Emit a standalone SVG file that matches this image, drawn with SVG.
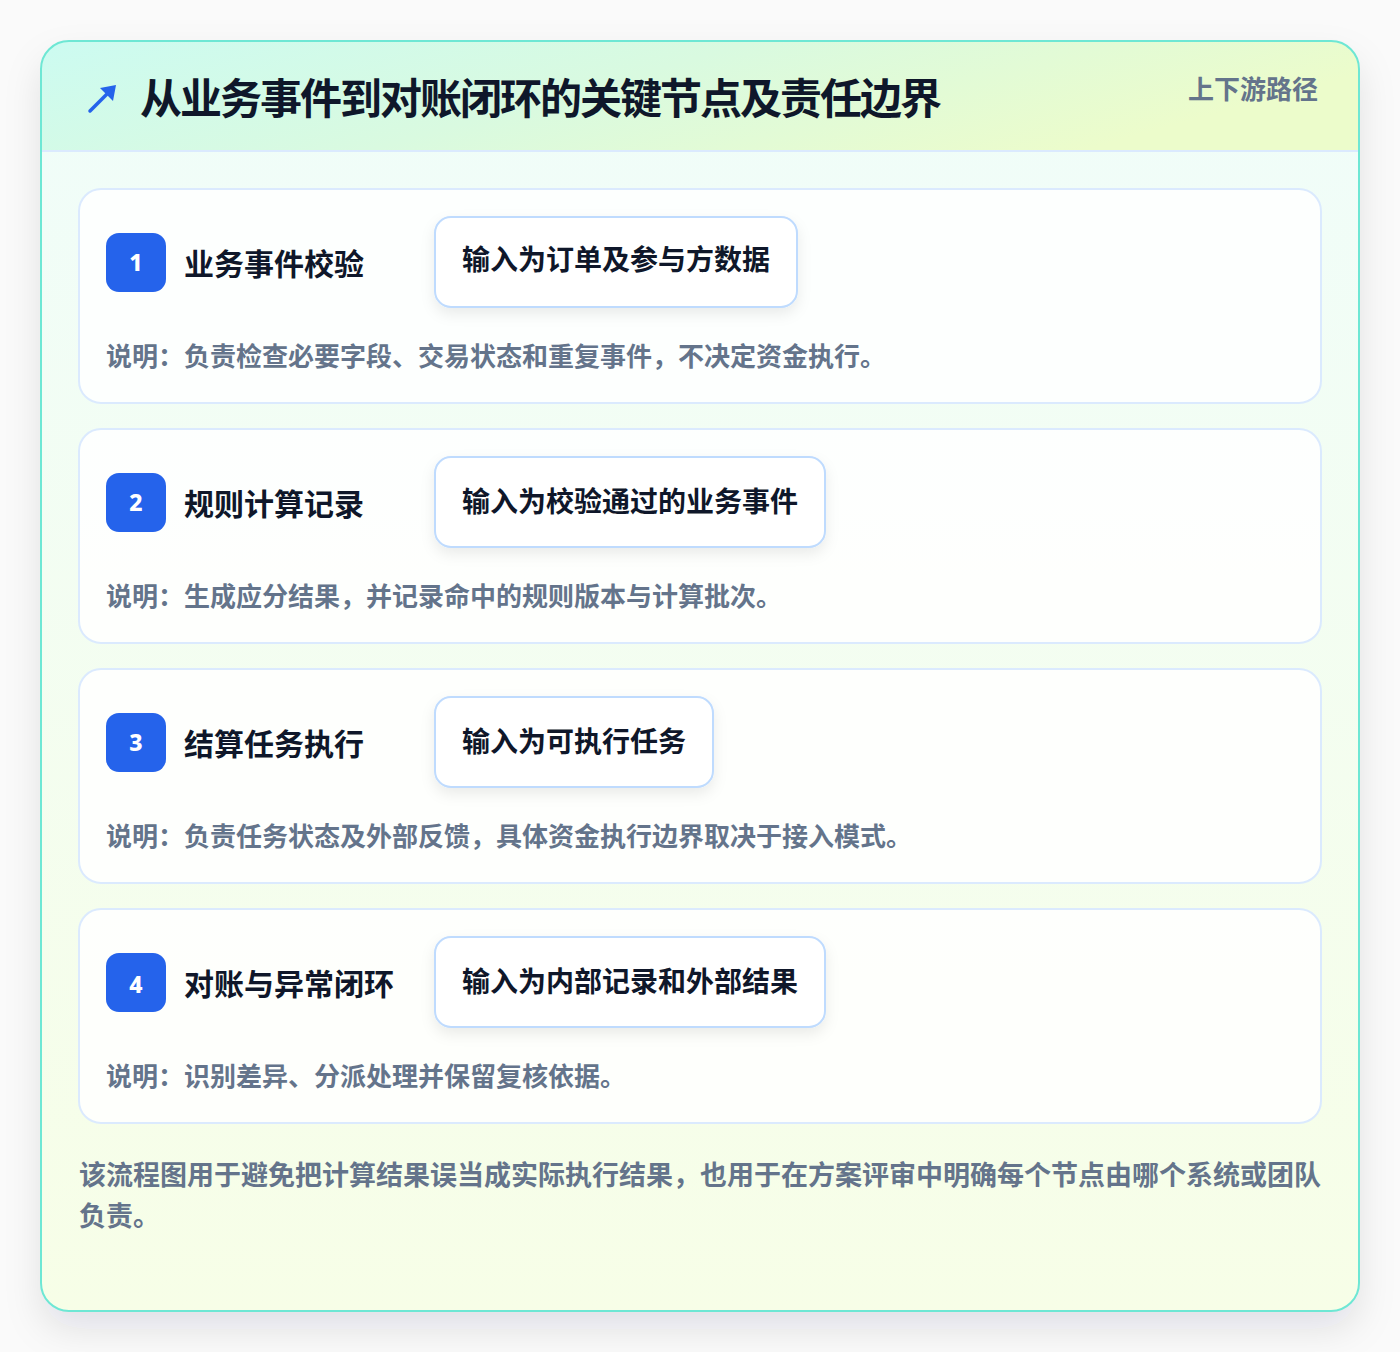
<svg xmlns="http://www.w3.org/2000/svg" width="1400" height="1352" viewBox="0 0 1400 1352">
<style>
text{font-family:"Noto Sans CJK SC","Noto Sans",sans-serif;font-weight:700}
.card{fill:#ffffff;fill-opacity:0.85;stroke:#dbeafe;stroke-width:2}
.badge{fill:#2563eb}
.num{fill:#ffffff;font-size:23px;font-weight:800;text-anchor:middle;font-family:"Noto Sans","Liberation Sans",sans-serif}
.ttl{fill:#0f172a;font-size:30px}
.inbox{fill:#ffffff;stroke:#bfdbfe;stroke-width:2}
.intxt{fill:#0f172a;font-size:28px}
.desc{fill:#64748b;font-size:26px}
.foot{fill:#64748b;font-size:27px}
</style>
<defs>
<linearGradient id="hdr" x1="0" y1="0" x2="1" y2="0.3">
<stop offset="0" stop-color="#ccfbf1"/>
<stop offset="0.5" stop-color="#d9fae0"/>
<stop offset="1" stop-color="#ecfccb"/>
</linearGradient>
<linearGradient id="body" x1="0" y1="0" x2="0" y2="1">
<stop offset="0" stop-color="#f0fdfa"/>
<stop offset="1" stop-color="#f7fee7"/>
</linearGradient>
<filter id="sh" x="-10%" y="-10%" width="120%" height="125%">
<feDropShadow dx="0" dy="18" stdDeviation="18" flood-color="#0f172a" flood-opacity="0.10"/>
</filter>
<filter id="sh2" x="-10%" y="-20%" width="120%" height="160%">
<feDropShadow dx="0" dy="6" stdDeviation="7" flood-color="#0f172a" flood-opacity="0.08"/>
</filter>
<clipPath id="outerClip"><rect x="41" y="41" width="1318" height="1270" rx="28"/></clipPath>
</defs>
<rect width="1400" height="1352" fill="#fafafa"/>
<g id="frame">
<rect x="41" y="41" width="1318" height="1270" rx="28" fill="url(#body)" filter="url(#sh)"/>
<g clip-path="url(#outerClip)">
<rect x="41" y="41" width="1318" height="110" fill="url(#hdr)"/>
</g>
<line x1="41" y1="151" x2="1359" y2="151" stroke="#dbeafe" stroke-width="2"/>
<rect x="41" y="41" width="1318" height="1270" rx="28" fill="none" stroke="#6ee7d4" stroke-width="2"/>
</g>
<g id="header">
<g id="icon">
<line x1="90" y1="111" x2="108" y2="93" stroke="#2563eb" stroke-width="3.5" stroke-linecap="round"/>
<polygon points="116,85 113,101 100,88" fill="#2563eb"/>
</g>
<text x="140" y="114" font-size="42" fill="#0f172a" letter-spacing="-2">从业务事件到对账闭环的关键节点及责任边界</text>
<text x="1318" y="99" font-size="26" fill="#64748b" text-anchor="end">上下游路径</text>
</g>
<g id="step1">
<rect class="card" x="79" y="189" width="1242" height="214" rx="22"/>
<rect class="badge" x="106" y="233" width="60" height="59" rx="13"/>
<text class="num" x="136" y="271">1</text>
<text class="ttl" x="184" y="275">业务事件校验</text>
<rect class="inbox" x="435" y="217" width="362" height="90" rx="16" filter="url(#sh2)"/>
<text class="intxt" x="462" y="270">输入为订单及参与方数据</text>
<text class="desc" x="106" y="366">说明：负责检查必要字段、交易状态和重复事件，不决定资金执行。</text>
</g>
<g id="step2">
<rect class="card" x="79" y="429" width="1242" height="214" rx="22"/>
<rect class="badge" x="106" y="473" width="60" height="59" rx="13"/>
<text class="num" x="136" y="511">2</text>
<text class="ttl" x="184" y="515">规则计算记录</text>
<rect class="inbox" x="435" y="457" width="390" height="90" rx="16" filter="url(#sh2)"/>
<text class="intxt" x="462" y="512">输入为校验通过的业务事件</text>
<text class="desc" x="106" y="606">说明：生成应分结果，并记录命中的规则版本与计算批次。</text>
</g>
<g id="step3">
<rect class="card" x="79" y="669" width="1242" height="214" rx="22"/>
<rect class="badge" x="106" y="713" width="60" height="59" rx="13"/>
<text class="num" x="136" y="751">3</text>
<text class="ttl" x="184" y="755">结算任务执行</text>
<rect class="inbox" x="435" y="697" width="278" height="90" rx="16" filter="url(#sh2)"/>
<text class="intxt" x="462" y="752">输入为可执行任务</text>
<text class="desc" x="106" y="846">说明：负责任务状态及外部反馈，具体资金执行边界取决于接入模式。</text>
</g>
<g id="step4">
<rect class="card" x="79" y="909" width="1242" height="214" rx="22"/>
<rect class="badge" x="106" y="953" width="60" height="59" rx="13"/>
<text class="num" x="136" y="993">4</text>
<text class="ttl" x="184" y="995">对账与异常闭环</text>
<rect class="inbox" x="435" y="937" width="390" height="90" rx="16" filter="url(#sh2)"/>
<text class="intxt" x="462" y="992">输入为内部记录和外部结果</text>
<text class="desc" x="106" y="1086">说明：识别差异、分派处理并保留复核依据。</text>
</g>
<g id="connectors"></g>
<g id="footer">
<text class="foot" x="79" y="1185">该流程图用于避免把计算结果误当成实际执行结果，也用于在方案评审中明确每个节点由哪个系统或团队</text>
<text class="foot" x="79" y="1226">负责。</text>
</g>
</svg>
